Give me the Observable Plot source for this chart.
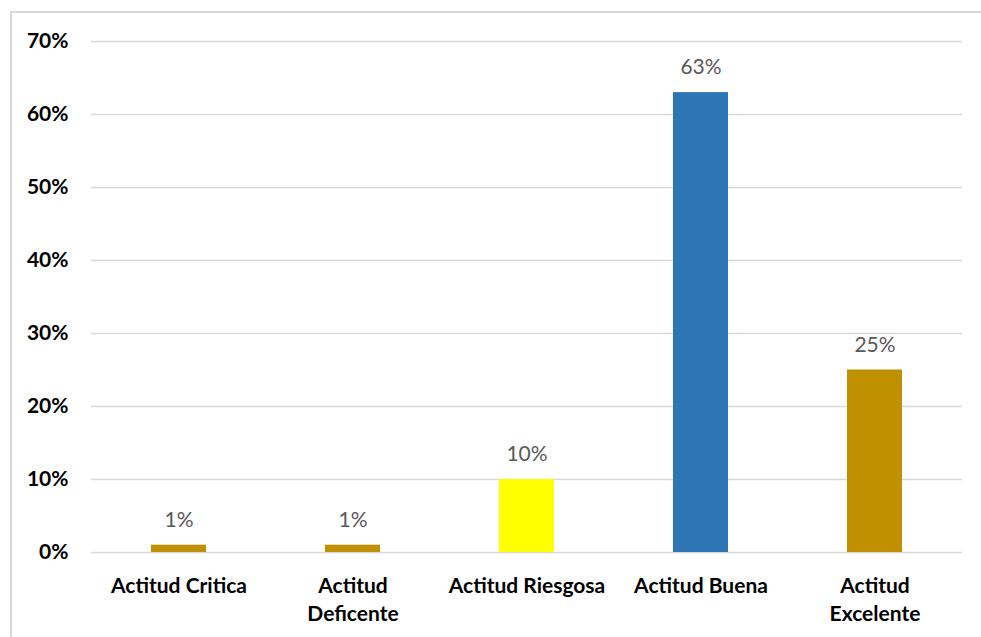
<!DOCTYPE html>
<html>
<head>
<meta charset="utf-8">
<script src="https://cdn.jsdelivr.net/npm/d3@7"></script>
<script src="https://cdn.jsdelivr.net/npm/@observablehq/plot@0.6"></script>
<style>
  html, body { margin: 0; padding: 0; background: #fff; overflow: hidden; }
  #wrap { position: relative; width: 981px; height: 637px; overflow: hidden; }
  #topline { position: absolute; left: 10px; top: 11px; width: 971px; height: 2px; background: #d9d9d9; }
  #leftline { position: absolute; left: 10px; top: 11px; width: 2px; height: 626px; background: #d9d9d9; }
</style>
</head>
<body>
<div id="wrap"><div id="topline"></div><div id="leftline"></div></div>
<script>
const categories = ["Actitud Critica", "Actitud Deficente", "Actitud Riesgosa", "Actitud Buena", "Actitud Excelente"];
const tickLabels = ["Actitud Critica", "Actitud\nDeficente", "Actitud Riesgosa", "Actitud Buena", "Actitud\nExcelente"];
const values = [1, 1, 10, 63, 25];
const barColors = ["#BF9000", "#BF9000", "#FFFF00", "#2E75B6", "#BF9000"];
const yTicks = [0, 10, 20, 30, 40, 50, 60, 70];

const data = categories.map((c, i) => ({cat: c, value: values[i], color: barColors[i]}));
const labelOf = new Map(categories.map((c, i) => [c, tickLabels[i]]));

const chart = Plot.plot({
  width: 981,
  height: 637,
  marginLeft: 91,
  marginRight: 19,
  marginTop: 41,
  marginBottom: 85,
  style: {fontFamily: "Lato, 'Open Sans', sans-serif", background: "transparent", overflow: "visible"},
  x: {domain: categories, paddingInner: 0.684, paddingOuter: 0.342, label: null},
  y: {domain: [0, 70], label: null},
  marks: [
    Plot.gridY(yTicks, {stroke: "#d9d9d9", strokeOpacity: 1, strokeWidth: 1.5}),
    Plot.barY(data, {x: "cat", y: "value", fill: "color"}),
    Plot.text(data, {x: "cat", y: "value", text: d => d.value + "%", dy: -25, fill: "#595959", fontSize: 21, lineAnchor: "middle"}),
    Plot.axisY(yTicks, {tickSize: 0, tickPadding: 23, tickFormat: d => d + "%", fontSize: 21, fontWeight: "bold", fill: "#000"}),
    Plot.axisX({tickSize: 0, tickPadding: 20, tickFormat: d => labelOf.get(d), fontSize: 21, fontWeight: "bold", fill: "#000", lineHeight: 1.35})
  ]
});
document.getElementById("wrap").prepend(chart);
</script>
</body>
</html>
